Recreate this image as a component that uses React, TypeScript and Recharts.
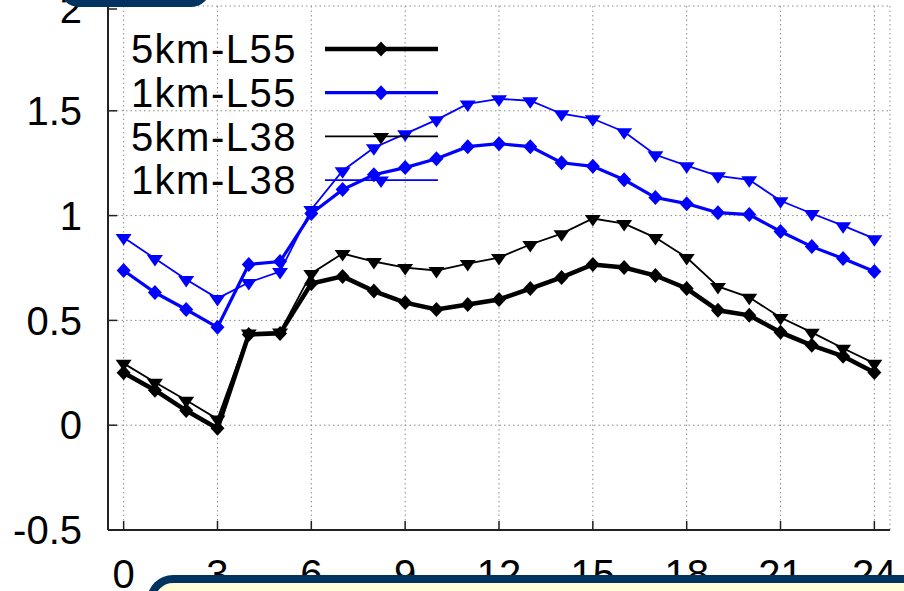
import React from 'react';
import { CartesianGrid, Legend, Line, LineChart, XAxis, YAxis } from 'recharts';

// hour of day
const hours = [0, 1, 2, 3, 4, 5, 6, 7, 8, 9, 10, 11, 12, 13, 14, 15, 16, 17, 18, 19, 20, 21, 22, 23, 24];

const km5L55 = [0.25, 0.167, 0.07, -0.015, 0.433, 0.438, 0.676, 0.71, 0.64, 0.585, 0.552, 0.576, 0.6, 0.652, 0.705, 0.767, 0.752, 0.714, 0.652, 0.548, 0.524, 0.443, 0.381, 0.329, 0.252];
const km1L55 = [0.738, 0.633, 0.552, 0.467, 0.767, 0.781, 1.01, 1.124, 1.195, 1.229, 1.271, 1.329, 1.343, 1.329, 1.252, 1.235, 1.171, 1.086, 1.057, 1.014, 1.005, 0.924, 0.852, 0.795, 0.733];
const km5L38 = [0.295, 0.205, 0.119, 0.029, 0.44, 0.445, 0.724, 0.819, 0.781, 0.752, 0.738, 0.771, 0.8, 0.862, 0.914, 0.986, 0.962, 0.895, 0.8, 0.662, 0.61, 0.514, 0.443, 0.367, 0.295];
const km1L38 = [0.895, 0.795, 0.695, 0.605, 0.681, 0.733, 1.029, 1.214, 1.324, 1.39, 1.457, 1.533, 1.557, 1.548, 1.486, 1.462, 1.4, 1.29, 1.238, 1.19, 1.171, 1.071, 1.01, 0.952, 0.89];

const xTicks = [0, 3, 6, 9, 12, 15, 18, 21, 24];
const yTicks = [-0.5, 0, 0.5, 1, 1.5, 2];

const seriesNames = ['5km-L55', '1km-L55', '5km-L38', '1km-L38'];

const data = hours.map((h, i) => ({
  hour: h,
  '5km-L55': km5L55[i],
  '1km-L55': km1L55[i],
  '5km-L38': km5L38[i],
  '1km-L38': km1L38[i],
}));

const FONT = '"Liberation Sans", Arial, Helvetica, sans-serif';
const NAVY = '#00335f';
const BLUE = '#0000ff';

type Style = { color: string; width: number; marker: 'diamond' | 'triangle' };
const styles: Record<string, Style> = {
  '5km-L55': { color: '#000', width: 4.5, marker: 'diamond' },
  '1km-L55': { color: BLUE, width: 3.2, marker: 'diamond' },
  '5km-L38': { color: '#000', width: 1.8, marker: 'triangle' },
  '1km-L38': { color: BLUE, width: 1.8, marker: 'triangle' },
};

const markerPath = (kind: string, cx: number, cy: number) =>
  kind === 'diamond'
    ? `M${cx},${cy - 7.5}L${cx + 7},${cy}L${cx},${cy + 7.5}L${cx - 7},${cy}Z`
    : `M${cx - 8},${cy - 3.5}L${cx + 8},${cy - 3.5}L${cx},${cy + 8}Z`;

const makeDot = (name: string) => (p: any) => {
  const st = styles[name];
  if (p.cx == null || p.cy == null) return <g key={`${name}-${p.index}`} />;
  return <path key={`${name}-${p.index}`} d={markerPath(st.marker, p.cx, p.cy)} fill={st.color} />;
};

const BottomTick = (props: any) => {
  const { x, y, payload } = props;
  const axisY = y - 30;
  return (
    <g>
      <line x1={x} x2={x} y1={axisY} y2={axisY - 9} stroke="#222" strokeWidth={1.5} />
      <text x={x} y={y} dy="0.71em" textAnchor="middle" fontSize={40} fontFamily={FONT} fill="#000">
        {payload.value}
      </text>
    </g>
  );
};

const TopTick = (props: any) => {
  const { x, y } = props;
  return <line x1={x} x2={x} y1={y} y2={y + 9} stroke="#222" strokeWidth={1.5} />;
};

const LeftTick = (props: any) => {
  const { x, y, payload } = props;
  const axisX = x + 26;
  return (
    <g>
      <line x1={axisX} x2={axisX + 9} y1={y} y2={y} stroke="#222" strokeWidth={1.5} />
      <text x={x} y={y} dy="0.355em" textAnchor="end" fontSize={40} fontFamily={FONT} fill="#000">
        {payload.value}
      </text>
    </g>
  );
};

const RightTick = (props: any) => {
  const { x, y } = props;
  return <line x1={x} x2={x - 9} y1={y} y2={y} stroke="#222" strokeWidth={1.5} />;
};

// legend drawn in the plot order, gnuplot style (label, then line sample)
const renderLegend = () => (
  <svg width={460} height={210} style={{ position: 'absolute', left: 0, top: 0 }}>
    {seriesNames.map((name, i) => {
      const st = styles[name];
      const cy = 49 + i * 43.7;
      return (
        <g key={name}>
          <text x={297} y={cy} dy="0.355em" textAnchor="end" fontSize={40} letterSpacing={1.5} fontFamily={FONT} fill="#000">
            {name}
          </text>
          <line x1={325} x2={438} y1={cy} y2={cy} stroke={st.color} strokeWidth={st.width} />
          <path d={markerPath(st.marker, 381, cy)} fill={st.color} />
        </g>
      );
    })}
  </svg>
);

export default function App() {
  return (
    <div style={{ position: 'absolute', left: 0, top: 0, width: 904, height: 591, overflow: 'hidden', background: '#fff' }}>
      <LineChart width={904} height={591} data={data} margin={{ top: 6, right: 14, bottom: 0, left: 0 }}>
        <CartesianGrid stroke="#8c8c8c" strokeDasharray="1.5 3" strokeWidth={1} />
        <XAxis
          dataKey="hour"
          type="number"
          domain={[-0.5, 24.5]}
          ticks={xTicks}
          height={61}
          tickSize={0}
          tickMargin={30}
          tickLine={false}
          axisLine={{ stroke: '#222', strokeWidth: 2 }}
          tick={<BottomTick />}
        />
        <XAxis
          xAxisId="top"
          orientation="top"
          dataKey="hour"
          type="number"
          domain={[-0.5, 24.5]}
          ticks={xTicks}
          height={0}
          tickSize={0}
          tickMargin={0}
          tickLine={false}
          axisLine={{ stroke: '#222', strokeWidth: 2 }}
          tick={<TopTick />}
        />
        <YAxis
          type="number"
          domain={[-0.5, 2]}
          ticks={yTicks}
          width={108}
          tickSize={0}
          tickMargin={26}
          tickLine={false}
          axisLine={{ stroke: '#222', strokeWidth: 2 }}
          tick={<LeftTick />}
        />
        <YAxis
          yAxisId="right"
          orientation="right"
          type="number"
          domain={[-0.5, 2]}
          ticks={yTicks}
          width={0}
          tickSize={0}
          tickMargin={0}
          tickLine={false}
          axisLine={{ stroke: '#222', strokeWidth: 2 }}
          tick={<RightTick />}
        />
        {seriesNames.map((name) => (
          <Line
            key={name}
            dataKey={name}
            name={name}
            type="linear"
            stroke={styles[name].color}
            strokeWidth={styles[name].width}
            dot={makeDot(name)}
            activeDot={false}
            isAnimationActive={false}
          />
        ))}
        <Legend
          layout="vertical"
          align="center"
          verticalAlign="middle"
          content={renderLegend}
          wrapperStyle={{ position: 'absolute', left: 0, top: 0, width: 460, height: 210 }}
        />
      </LineChart>
      <div
        style={{
          position: 'absolute',
          left: 60,
          top: -30,
          width: 150,
          height: 37,
          borderRadius: 20,
          background: NAVY,
        }}
      />
      <div
        style={{
          position: 'absolute',
          left: 147,
          top: 575,
          width: 800,
          height: 60,
          borderTopLeftRadius: 26,
          border: `8px solid ${NAVY}`,
          background: '#ffffd9',
        }}
      />
    </div>
  );
}
